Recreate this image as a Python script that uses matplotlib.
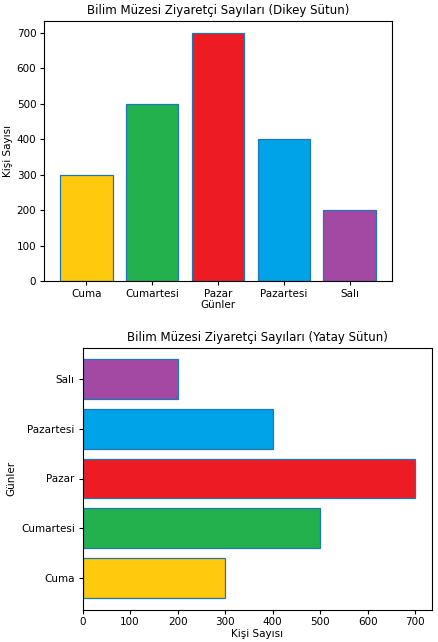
import matplotlib.pyplot as plt

gunler = ['Cuma', 'Cumartesi', 'Pazar', 'Pazartesi', 'Salı']
ziyaretci = [300, 500, 700, 400, 200]
renkler = ['#FFC90E', '#22B14C', '#ED1C24', '#00A2E8', '#A349A4']

W, H = 438, 642
fig = plt.figure(figsize=(W / 100, H / 100), dpi=100)

# eksen konumları piksel olarak (sol, üst, sağ, alt)
ax1 = fig.add_axes([44 / W, 1 - 281 / H, (392 - 44) / W, (281 - 20.5) / H])
ax2 = fig.add_axes([82.5 / W, 1 - 609.5 / H, (432 - 82.5) / W, (609.5 - 347.5) / H])

ax1.bar(gunler, ziyaretci, color=renkler, edgecolor='tab:blue', linewidth=0.9)
ax1.set_title('Bilim Müzesi Ziyaretçi Sayıları (Dikey Sütun)', fontsize=8.5, pad=5)
ax1.set_xlabel('Günler', fontsize=7.5, labelpad=1)
ax1.set_ylabel('Kişi Sayısı', fontsize=7.5, labelpad=3)
ax1.tick_params(labelsize=7.5, length=3, pad=2.5)

ax2.barh(gunler, ziyaretci, color=renkler, edgecolor='tab:blue', linewidth=0.9)
ax2.set_title('Bilim Müzesi Ziyaretçi Sayıları (Yatay Sütun)', fontsize=8.5, pad=5)
ax2.set_xlabel('Kişi Sayısı', fontsize=7.5, labelpad=1)
ax2.set_ylabel('Günler', fontsize=7.5, labelpad=3)
ax2.tick_params(labelsize=7.5, length=3, pad=2.5)

fig.savefig('out.png', dpi=100)
